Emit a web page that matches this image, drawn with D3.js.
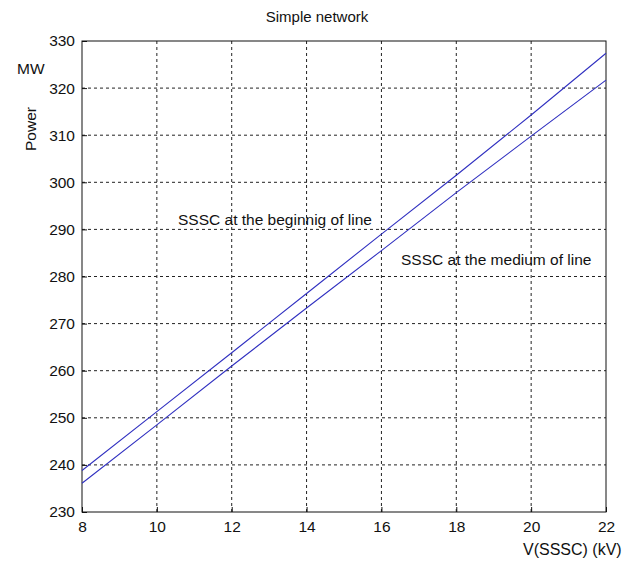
<!DOCTYPE html>
<html>
<head>
<meta charset="utf-8">
<script src="https://cdn.jsdelivr.net/npm/d3@7"></script>
<style>
  body { margin: 0; background: #fff; }
  text { font-family: "Liberation Sans", Arial, sans-serif; fill: #111; }
</style>
</head>
<body>
<svg id="chart" width="630" height="564"></svg>
<script>
// data
var voltage = [8, 10, 12, 14, 16, 18, 20, 22];
var powerBeginning = [238.8, 251.3, 263.8, 276.4, 289.0, 301.5, 314.3, 327.4];
var powerMedium = [236.1, 248.5, 261.0, 273.3, 285.5, 297.8, 309.8, 321.7];
var xTicks = [8, 10, 12, 14, 16, 18, 20, 22];
var yTicks = [230, 240, 250, 260, 270, 280, 290, 300, 310, 320, 330];
var seriesLabels = ["SSSC at the beginnig of line", "SSSC at the medium of line"];

var svg = d3.select("#chart");
var plotLeft = 82, plotRight = 606, plotTop = 41, plotBottom = 512;

var x = d3.scaleLinear().domain([8, 22]).range([plotLeft, plotRight]);
var y = d3.scaleLinear().domain([230, 330]).range([plotBottom, plotTop]);

// grid
svg.append("g").selectAll("line")
    .data(xTicks.slice(1, -1))
    .enter().append("line")
    .attr("x1", function (d) { return x(d); })
    .attr("x2", function (d) { return x(d); })
    .attr("y1", plotTop).attr("y2", plotBottom)
    .attr("stroke", "#222").attr("stroke-dasharray", "3,3");

svg.append("g").selectAll("line")
    .data(yTicks.slice(1, -1))
    .enter().append("line")
    .attr("y1", function (d) { return y(d); })
    .attr("y2", function (d) { return y(d); })
    .attr("x1", plotLeft).attr("x2", plotRight)
    .attr("stroke", "#222").attr("stroke-dasharray", "3,3");

// axes
var xAxis = svg.append("g")
    .attr("transform", "translate(0," + plotBottom + ")")
    .call(d3.axisBottom(x).tickValues(xTicks).tickSize(-5).tickPadding(9));
var yAxis = svg.append("g")
    .attr("transform", "translate(" + plotLeft + ",0)")
    .call(d3.axisLeft(y).tickValues(yTicks).tickSize(-5).tickPadding(7));

[xAxis, yAxis].forEach(function (a) {
    a.select(".domain").remove();
    a.selectAll("line").attr("stroke", "#111");
    a.selectAll("text")
        .style("font-family", "'Liberation Sans', Arial, sans-serif")
        .style("font-size", "15.5px").attr("fill", "#111");
});

// box
svg.append("rect")
    .attr("x", plotLeft).attr("y", plotTop)
    .attr("width", plotRight - plotLeft).attr("height", plotBottom - plotTop)
    .attr("fill", "none").attr("stroke", "#111");

// lines
var line = d3.line()
    .x(function (d, i) { return x(voltage[i]); })
    .y(function (d) { return y(d); });

[powerBeginning, powerMedium].forEach(function (s) {
    svg.append("path")
        .datum(s)
        .attr("d", line)
        .attr("fill", "none")
        .attr("stroke", "#3030c0")
        .attr("stroke-width", 1.1);
});

// labels
svg.append("text").attr("x", 317).attr("y", 22)
    .attr("text-anchor", "middle").style("font-size", "15px")
    .text("Simple network");

svg.append("text").attr("x", 178).attr("y", 225)
    .style("font-size", "15.5px").text(seriesLabels[0]);
svg.append("text").attr("x", 401).attr("y", 265)
    .style("font-size", "15.5px").text(seriesLabels[1]);

svg.append("text").attr("x", 17).attr("y", 74)
    .style("font-size", "15.5px").text("MW");
svg.append("text")
    .attr("transform", "translate(36,129) rotate(-90)")
    .attr("text-anchor", "middle").style("font-size", "15.5px")
    .text("Power");

svg.append("text").attr("x", 523).attr("y", 555)
    .style("font-size", "16px").text("V(SSSC) (kV)");
</script>
</body>
</html>
